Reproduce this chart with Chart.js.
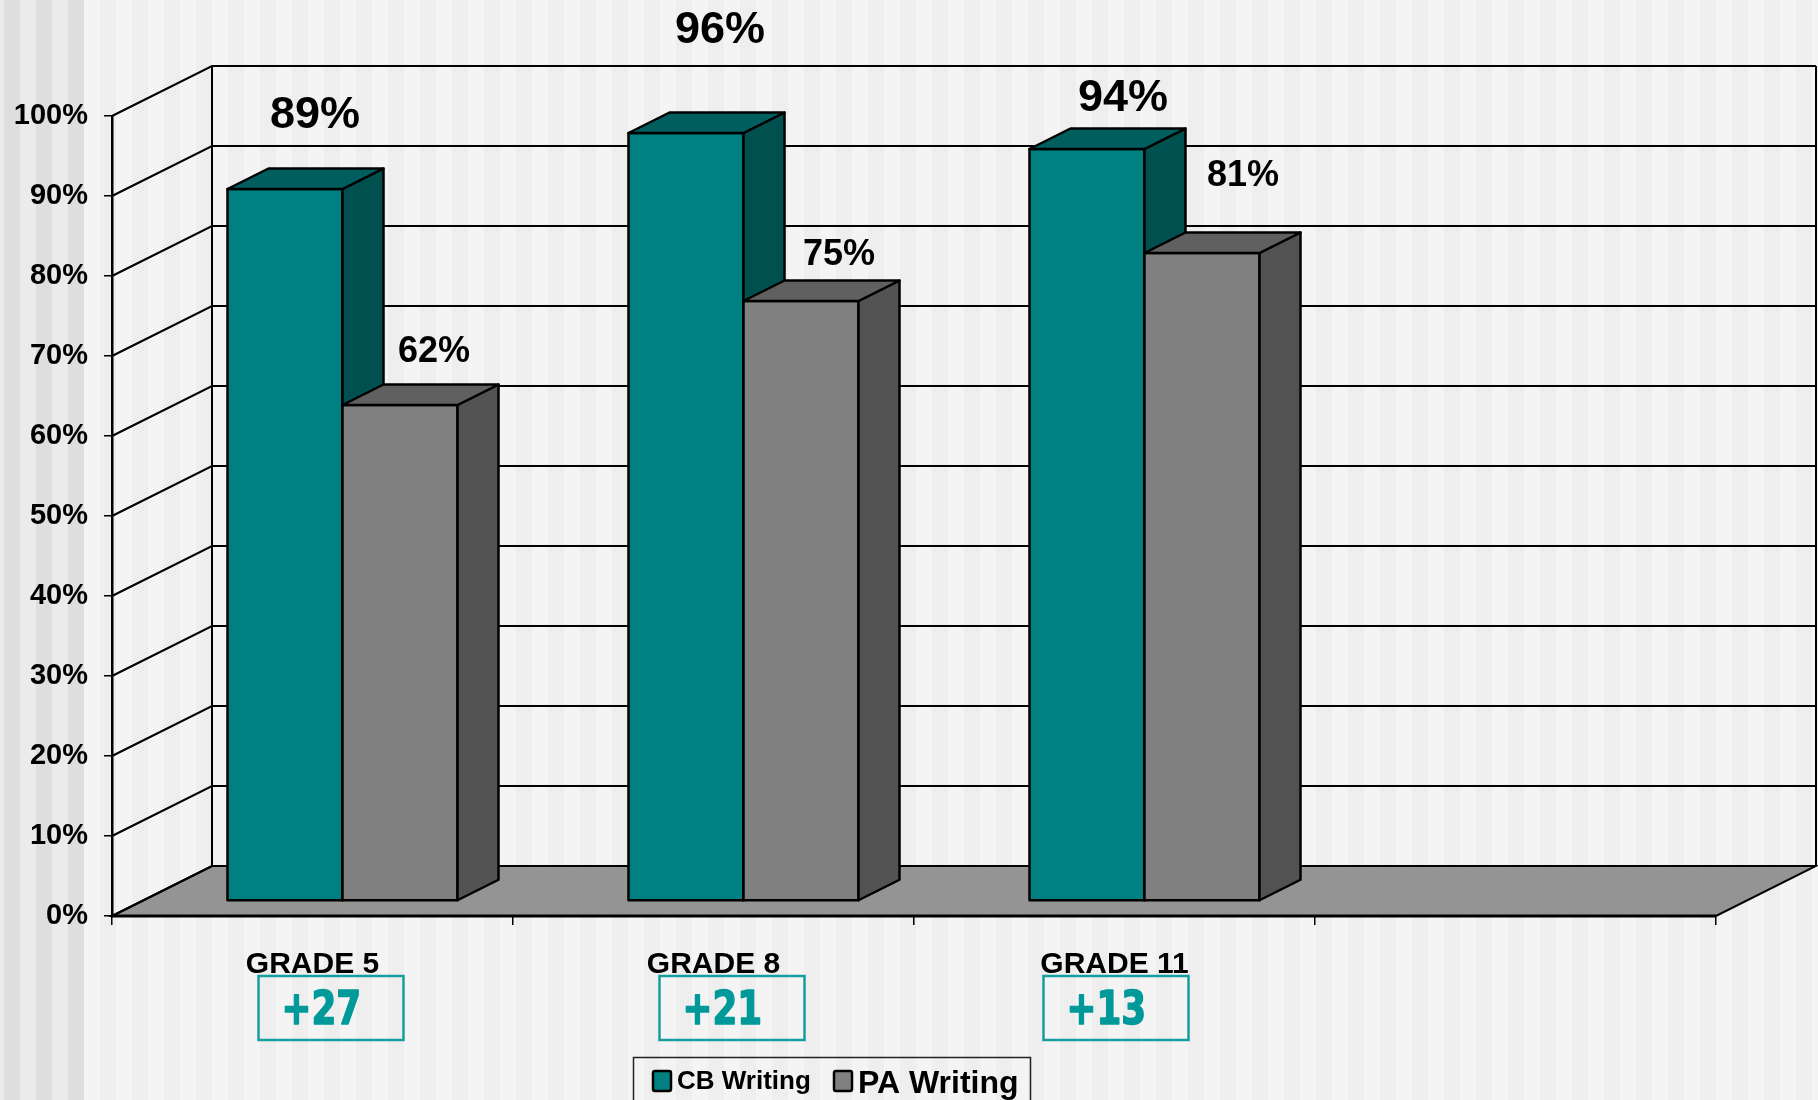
<!DOCTYPE html>
<html>
<head>
<meta charset="utf-8">
<script src="https://cdn.jsdelivr.net/npm/chart.js@4/dist/chart.umd.min.js"></script>
<style>
  html, body { margin: 0; padding: 0; background: #f4f4f4; }
  canvas { display: block; }
</style>
</head>
<body>
<canvas id="chart" width="1818" height="1100"></canvas>
<script>
// data
const grades = ["GRADE 5", "GRADE 8", "GRADE 11", ""];
const cbWriting = [89, 96, 94];
const paWriting = [62, 75, 81];
const seriesNames = ["CB Writing", "PA Writing"];

// 3d look
const DEPTH_X = 100, DEPTH_Y = -50;
const BAR_Z0 = 0.3, BAR_Z1 = 0.71;
const faces = [
  { front: "#008080", top: "#005e5e", side: "#005050" },
  { front: "#808080", top: "#606060", side: "#525252" },
];
// label nudges relative to bar front top centre [dx, baseline dy]
const labelNudge = [
  [[30, -61], [34, -90], [36, -38]],
  [[34, -43], [38, -36], [41, -67]],
];
const labelSize = [45, 36];
const boxShift = [-54, -54, -71];

const FONT = 'Arial, "Liberation Sans", sans-serif';

const scene3d = {
  id: "scene3d",
  beforeDraw(chart) {
    const ctx = chart.ctx;
    const W = chart.width, H = chart.height;
    // striped backdrop
    ctx.save();
    ctx.fillStyle = "#ebebeb";
    ctx.fillRect(0, 0, 84, H);
    ctx.fillStyle = "#dedede";
    for (let x = 4; x < 84; x += 32) ctx.fillRect(x, 0, 16, H);
    ctx.fillStyle = "#f4f4f4";
    ctx.fillRect(84, 0, W - 84, H);
    ctx.fillStyle = "#eeeeee";
    for (let x = 100; x < W; x += 32) ctx.fillRect(x, 0, 16, H);

    const { left, right, bottom } = chart.chartArea;
    const y = chart.scales.y;

    // floor
    ctx.beginPath();
    ctx.moveTo(left, bottom);
    ctx.lineTo(right, bottom);
    ctx.lineTo(right + DEPTH_X, bottom + DEPTH_Y);
    ctx.lineTo(left + DEPTH_X, bottom + DEPTH_Y);
    ctx.closePath();
    ctx.fillStyle = "#949494";
    ctx.fill();
    ctx.strokeStyle = "#000";
    ctx.lineWidth = 2;
    ctx.stroke();

    // side + back wall grid
    ctx.lineWidth = 2;
    y.ticks.forEach(t => {
      const py = y.getPixelForValue(t.value);
      ctx.beginPath();
      ctx.moveTo(left, py);
      ctx.lineTo(left + DEPTH_X, py + DEPTH_Y);
      ctx.lineTo(right + DEPTH_X, py + DEPTH_Y);
      ctx.stroke();
    });
    const yt = y.getPixelForValue(100) + DEPTH_Y;
    const yb = y.getPixelForValue(0) + DEPTH_Y;
    ctx.beginPath();
    ctx.moveTo(left + DEPTH_X, yt);
    ctx.lineTo(left + DEPTH_X, yb);
    ctx.moveTo(right + DEPTH_X, yt);
    ctx.lineTo(right + DEPTH_X, yb);
    ctx.stroke();

    // floor front edge
    ctx.lineWidth = 3;
    ctx.beginPath();
    ctx.moveTo(left, bottom);
    ctx.lineTo(right, bottom);
    ctx.stroke();
    ctx.restore();
  },

  beforeDatasetsDraw(chart) {
    const ctx = chart.ctx;
    const fx = BAR_Z0 * DEPTH_X, fy = BAR_Z0 * DEPTH_Y;
    const dx = (BAR_Z1 - BAR_Z0) * DEPTH_X, dy = (BAR_Z1 - BAR_Z0) * DEPTH_Y;
    ctx.save();
    ctx.lineJoin = "round";
    ctx.lineWidth = 2.5;
    ctx.strokeStyle = "#000";
    const n = chart.data.labels.length;
    for (let i = 0; i < n; i++) {
      chart.data.datasets.forEach((ds, d) => {
        if (ds.data[i] == null) return;
        const el = chart.getDatasetMeta(d).data[i];
        const p = el.getProps(["x", "y", "base", "width"], true);
        const L = p.x - p.width / 2 + fx, R = p.x + p.width / 2 + fx;
        const T = p.y + fy, B = p.base + fy;
        const c = faces[d];
        // front
        ctx.fillStyle = c.front;
        ctx.fillRect(L, T, R - L, B - T);
        ctx.strokeRect(L, T, R - L, B - T);
        // side
        ctx.beginPath();
        ctx.moveTo(R, T);
        ctx.lineTo(R + dx, T + dy);
        ctx.lineTo(R + dx, B + dy);
        ctx.lineTo(R, B);
        ctx.closePath();
        ctx.fillStyle = c.side;
        ctx.fill();
        ctx.stroke();
        // top
        ctx.beginPath();
        ctx.moveTo(L, T);
        ctx.lineTo(L + dx, T + dy);
        ctx.lineTo(R + dx, T + dy);
        ctx.lineTo(R, T);
        ctx.closePath();
        ctx.fillStyle = c.top;
        ctx.fill();
        ctx.stroke();
      });
    }
    ctx.restore();
    return false;
  },

  afterDraw(chart) {
    const ctx = chart.ctx;
    const fx = BAR_Z0 * DEPTH_X, fy = BAR_Z0 * DEPTH_Y;
    const xs = chart.scales.x;
    const { bottom } = chart.chartArea;
    ctx.save();

    // value labels
    ctx.fillStyle = "#000";
    ctx.textAlign = "center";
    ctx.textBaseline = "alphabetic";
    chart.data.datasets.forEach((ds, d) => {
      ctx.font = "bold " + labelSize[d] + "px " + FONT;
      ds.data.forEach((v, i) => {
        const el = chart.getDatasetMeta(d).data[i];
        const [nx, ny] = labelNudge[d][i];
        ctx.fillText(v + "%", el.x + fx + nx, el.y + fy + ny);
      });
    });

    // gap boxes
    cbWriting.forEach((cb, i) => {
      const gap = cb - paWriting[i];
      const bx = xs.getPixelForValue(i) + boxShift[i];
      const by = bottom + 60;
      ctx.strokeStyle = "#149e9e";
      ctx.lineWidth = 2.5;
      ctx.strokeRect(bx, by, 145, 64);
      ctx.save();
      ctx.translate(bx + 23, by + 48);
      ctx.scale(0.76, 1);
      ctx.font = 'bold 47px "DejaVu Sans", Verdana, sans-serif';
      ctx.fillStyle = "#009999";
      ctx.strokeStyle = "#009999";
      ctx.lineWidth = 1.6;
      ctx.lineJoin = "round";
      ctx.textAlign = "left";
      ctx.fillText("+" + gap, 0, 0);
      ctx.strokeText("+" + gap, 0, 0);
      ctx.restore();
    });

    // legend
    ctx.strokeStyle = "#222";
    ctx.lineWidth = 1.5;
    ctx.strokeRect(633.5, 1057.5, 397, 60);
    const items = [
      { sq: 653, tx: 677, size: 26, base: 1089 },
      { sq: 834, tx: 858, size: 32, base: 1093 },
    ];
    items.forEach((it, d) => {
      ctx.fillStyle = faces[d].front;
      ctx.strokeStyle = "#000";
      ctx.lineWidth = 2.5;
      ctx.beginPath();
      ctx.roundRect(it.sq, 1071, 18, 20, 2);
      ctx.fill();
      ctx.stroke();
      ctx.fillStyle = "#000";
      ctx.font = "bold " + it.size + "px " + FONT;
      ctx.textAlign = "left";
      ctx.fillText(chart.data.datasets[d].label, it.tx, it.base);
    });
    ctx.restore();
  },
};

new Chart(document.getElementById("chart"), {
  type: "bar",
  data: {
    labels: grades,
    datasets: [
      { label: seriesNames[0], data: cbWriting, backgroundColor: faces[0].front },
      { label: seriesNames[1], data: paWriting, backgroundColor: faces[1].front },
    ],
  },
  options: {
    responsive: false,
    animation: false,
    events: [],
    layout: { padding: { top: 116, right: 102, left: 0, bottom: 0 } },
    datasets: { bar: { categoryPercentage: 0.5736, barPercentage: 1.0 } },
    plugins: {
      legend: { display: false },
      tooltip: { enabled: false },
    },
    scales: {
      x: {
        afterFit: s => { s.height = 184; },
        grid: { drawOnChartArea: false, tickLength: 9, color: "#000", lineWidth: 1.5 },
        border: { display: false },
        ticks: { color: "#000", font: { family: FONT, size: 30, weight: "bold" }, padding: 22, maxRotation: 0 },
      },
      y: {
        min: 0,
        max: 100,
        afterFit: s => { s.width = 112; },
        grid: { drawOnChartArea: false, tickLength: 8, color: "#000", lineWidth: 1.5 },
        border: { display: true, color: "#000", width: 2.5 },
        ticks: {
          stepSize: 10,
          color: "#000",
          padding: 16,
          font: { family: FONT, size: 29, weight: "bold" },
          callback: v => v + "%",
        },
      },
    },
  },
  plugins: [scene3d],
});
</script>
</body>
</html>
